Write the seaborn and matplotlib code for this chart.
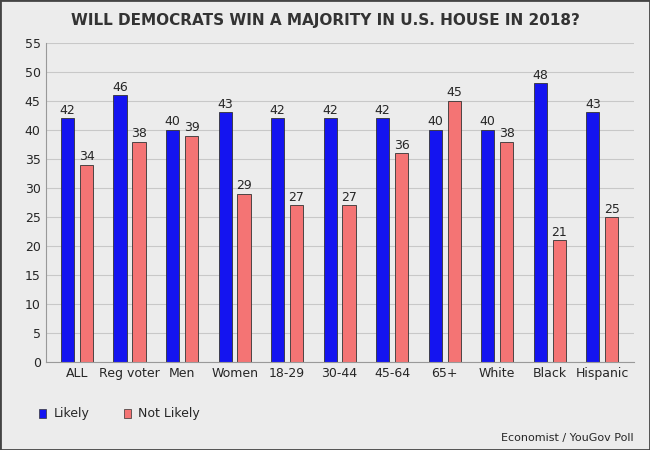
import pandas as pd
import matplotlib.pyplot as plt
import seaborn as sns

groups = ['ALL', 'Reg voter', 'Men', 'Women', '18-29', '30-44', '45-64', '65+', 'White', 'Black', 'Hispanic']
likely = [42, 46, 40, 43, 42, 42, 42, 40, 40, 48, 43]
not_likely = [34, 38, 39, 29, 27, 27, 36, 45, 38, 21, 25]

df = pd.DataFrame({
    'group': groups * 2,
    'value': likely + not_likely,
    'series': ['Likely'] * len(groups) + ['Not Likely'] * len(groups),
})

sns.set_style('whitegrid')
plt.rcParams['font.family'] = ['DejaVu Sans']

fig = plt.figure(figsize=(6.5, 4.5), dpi=100, facecolor='#ececec')
fig.patches.append(plt.Rectangle((0, 0), 1, 1, transform=fig.transFigure,
                                 fill=False, edgecolor='#444444', linewidth=2))
ax = fig.add_axes([0.07, 0.195, 0.905, 0.71])
ax.set_facecolor('#ececec')

palette = {'Likely': '#1414f0', 'Not Likely': '#f47474'}
sns.barplot(data=df, x='group', y='value', hue='series', palette=palette, saturation=1,
            width=0.72, gap=0.3, edgecolor='#333333', linewidth=0.6, ax=ax, legend=False)

for c in ax.containers:
    ax.bar_label(c, fontsize=9, padding=1)

ax.set_ylim(0, 55)
ax.set_yticks(range(0, 56, 5))
ax.set_xlim(-0.6, len(groups) - 0.4)
ax.grid(axis='y', color='#c8c8c8', linewidth=0.8)
ax.grid(axis='x', visible=False)
ax.tick_params(labelsize=9, length=0)
ax.set_xlabel('')
ax.set_ylabel('')
for s in ['top', 'right']:
    ax.spines[s].set_visible(False)
ax.spines['left'].set_color('#999999')
ax.spines['bottom'].set_color('#999999')

fig.text(0.5, 0.955, 'WILL DEMOCRATS WIN A MAJORITY IN U.S. HOUSE IN 2018?',
         ha='center', va='center', fontsize=11, fontweight='bold', color='#333333')

fig.patches.append(plt.Rectangle((0.06, 0.072), 0.011, 0.02, transform=fig.transFigure,
                                 facecolor=palette['Likely'], edgecolor='#333333', linewidth=0.5))
fig.text(0.083, 0.081, 'Likely', va='center', fontsize=9)
fig.patches.append(plt.Rectangle((0.19, 0.072), 0.011, 0.02, transform=fig.transFigure,
                                 facecolor=palette['Not Likely'], edgecolor='#333333', linewidth=0.5))
fig.text(0.213, 0.081, 'Not Likely', va='center', fontsize=9)

fig.text(0.975, 0.027, 'Economist / YouGov Poll', ha='right', va='center', fontsize=8)

fig.savefig('out.png', dpi=100, facecolor=fig.get_facecolor())
